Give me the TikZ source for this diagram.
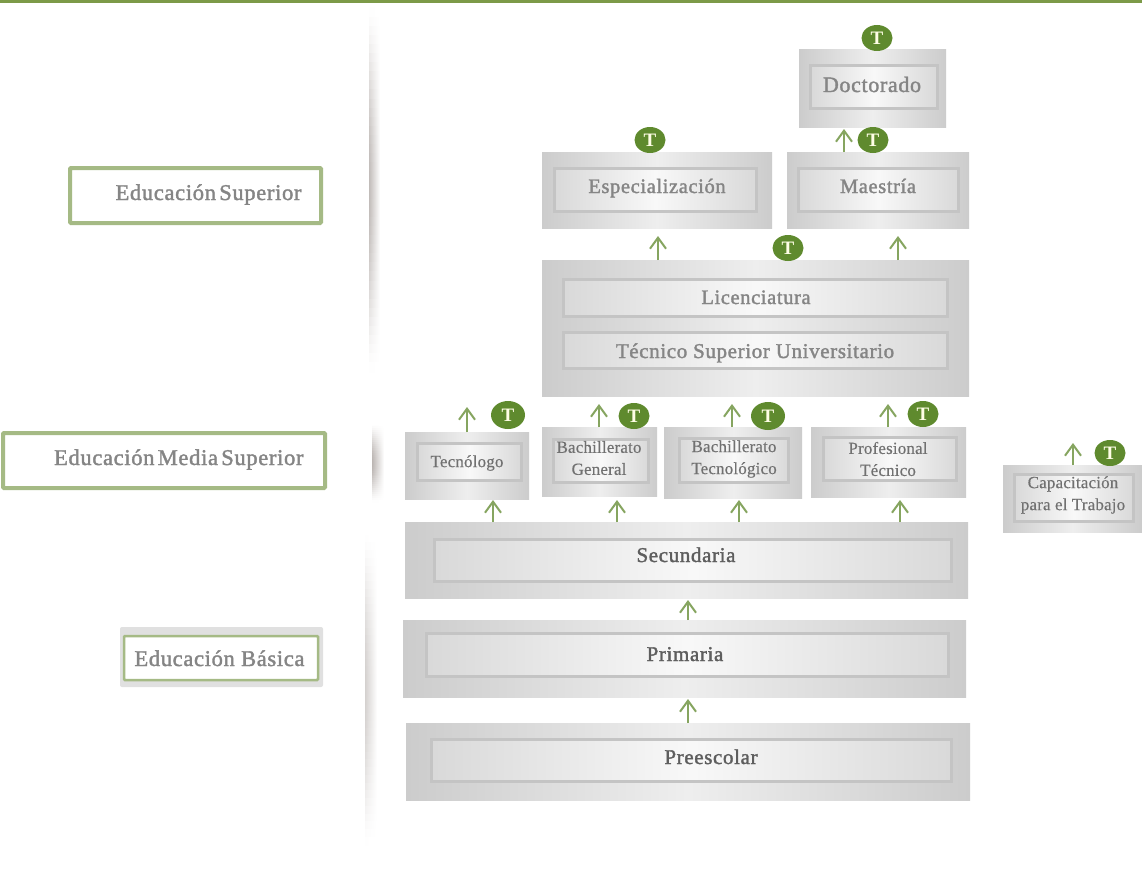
\documentclass[tikz,border=0pt]{standalone}
\usepackage{fontspec}
\setmainfont{Liberation Serif}
\newfontfamily\lblfont[LetterSpace=3,FakeBold=1.6]{Liberation Serif}
\newfontfamily\smlfont[LetterSpace=1,FakeBold=0.4]{Liberation Serif}
\usetikzlibrary{arrows.meta,shapes.geometric}
\definecolor{txtgray}{HTML}{858585}
\definecolor{txtdark}{HTML}{5E5E5E}
\definecolor{boxedge}{HTML}{CCCCCC}
\definecolor{boxlight}{HTML}{EEEEEE}
\definecolor{frameline}{HTML}{C4C4C4}
\definecolor{leafgreen}{HTML}{5F8A2E}
\definecolor{arrowgreen}{HTML}{86A560}
\definecolor{framegreen}{HTML}{A5BA85}
\definecolor{bargreen}{HTML}{7C9A48}
\definecolor{shadowc}{HTML}{8F8580}
\tikzset{
  outerbox/.style={rectangle,inner sep=0pt,outer sep=0pt,left color=boxedge,right color=boxedge,middle color=boxlight},
  innerbox/.style={rectangle,draw=frameline,line width=3pt,inner sep=0pt,outer sep=0pt,left color=boxedge!75!white,right color=boxedge!75!white,middle color=boxlight!40!white},
  toptext/.style={font=\lblfont\fontsize{20.5}{24}\selectfont,text=txtgray,anchor=base},
  darktext/.style={font=\lblfont\fontsize{21}{24}\selectfont,text=txtdark,anchor=base},
  smalltext/.style={font=\smlfont\fontsize{17}{22}\selectfont,text=txtgray!85!black,align=center},
  tbadge/.style={ellipse,fill=leafgreen,inner sep=0pt,text=white!90!yellow,font=\bfseries\fontsize{19}{19}\selectfont,minimum width=31pt,minimum height=26pt},
  upflow/.style={draw=arrowgreen,line width=2pt,-{Straight Barb[length=11pt,width=16pt,line width=2pt]}},
  levelbox/.style={rectangle,rounded corners=1pt,draw=framegreen,line width=4pt,fill=white,inner sep=0pt,outer sep=0pt},
  leveltext/.style={font=\lblfont\fontsize{22.5}{26}\selectfont,text=txtgray,anchor=base east}
}
% name, x1,y1,x2,y2 outer
\newcommand{\outerrect}[5]{%
  \pgfmathsetmacro{\cxv}{(#2+#4)/2}\pgfmathsetmacro{\cyv}{(#3+#5)/2}%
  \pgfmathsetmacro{\wv}{#4-#2}\pgfmathsetmacro{\hv}{#5-#3}%
  \node[outerbox,minimum width=\wv pt,minimum height=\hv pt] (#1) at (\cxv,\cyv) {};}
% name, x1,y1,x2,y2 inner
\newcommand{\innerrect}[5]{%
  \pgfmathsetmacro{\cxv}{(#2+#4)/2}\pgfmathsetmacro{\cyv}{(#3+#5)/2}%
  \pgfmathsetmacro{\wv}{#4-#2-3}\pgfmathsetmacro{\hv}{#5-#3-3}%
  \node[innerbox,minimum width=\wv pt,minimum height=\hv pt] (#1) at (\cxv,\cyv) {};}
\newcommand{\levelrect}[6]{%
  \pgfmathsetmacro{\cxv}{(#2+#4)/2}\pgfmathsetmacro{\cyv}{(#3+#5)/2}%
  \pgfmathsetmacro{\wv}{#4-#2-4}\pgfmathsetmacro{\hv}{#5-#3-4}%
  \node[levelbox,#6,minimum width=\wv pt,minimum height=\hv pt] (#1) at (\cxv,\cyv) {};}
% x1, x2, y1, y2, peak
\newcommand{\shadowseg}[5]{%
  \foreach \i in {0,...,39}{%
    \pgfmathsetmacro{\ya}{#3+(#4-#3)*\i/40}%
    \pgfmathsetmacro{\yb}{#3+(#4-#3)*(\i+1)/40+0.6}%
    \pgfmathsetmacro{\kv}{#5*pow(sin(180*(\i+0.5)/40),1.3)}%
    \shade[left color=shadowc!\kv!white,right color=white] (#1,\ya) rectangle (#2,\yb);
  }}
\begin{document}
\begin{tikzpicture}[x=1pt,y=-1pt]
\useasboundingbox (0,0) rectangle (1142,875);
\fill[white] (0,0) rectangle (1142,875);
\fill[bargreen] (0,0) rectangle (1142,3);
% vertical shadow
\shadowseg{369}{380}{8}{372}{55}
\shadowseg{372}{384}{425}{502}{60}
\shadowseg{365}{377}{535}{845}{38}
% level labels
\levelrect{lsup}{68}{166}{323}{225}{}
\node[leveltext] (tsup) at (305,200) {Educación\kern-3pt\ Superior};
\levelrect{lmed}{1}{431}{327}{490}{}
\node[leveltext] (tmed) at (307,465) {Educación\kern-3pt\ Media\kern-3pt\ Superior};
\node[rectangle,fill=black!12,rounded corners=2pt,minimum width=203pt,minimum height=60pt,inner sep=0pt] (lbashalo) at (221.5,657) {};
\levelrect{lbas}{122}{634}{320}{682}{line width=2.5pt}
\node[leveltext] (tbas) at (308,666) {Educación Básica};
% boxes
\outerrect{doc}{799}{50}{946}{127}
\innerrect{doci}{809}{64}{939}{110}
\outerrect{esp}{542}{152}{772}{228}
\innerrect{espi}{553}{167}{758}{213}
\outerrect{mae}{787}{152}{969}{228}
\innerrect{maei}{797}{167}{960}{213}
\outerrect{lic}{542}{260}{969}{396}
\innerrect{lici}{562}{278}{949}{318}
\innerrect{tsui}{562}{331}{949}{370}
\outerrect{tec}{405}{432}{529}{499}
\innerrect{teci}{416}{442}{523}{482}
\outerrect{bge}{542}{427}{657}{496}
\innerrect{bgei}{552}{438}{650}{484}
\outerrect{bte}{664}{427}{802}{498}
\innerrect{btei}{678}{437}{790}{484}
\outerrect{pro}{811}{427}{966}{497}
\innerrect{proi}{822}{436}{958}{482}
\outerrect{cap}{1003}{465}{1142}{532}
\innerrect{capi}{1013}{473}{1135}{523}
\outerrect{sec}{405}{522}{968}{598}
\innerrect{seci}{433}{538}{953}{583}
\outerrect{pri}{403}{620}{966}{697}
\innerrect{prii}{425}{632}{950}{678}
\outerrect{pre}{406}{723}{970}{800}
\innerrect{prei}{430}{738}{953}{783}
% labels
\node[toptext,font=\lblfont\fontsize{22}{24}\selectfont] (ldoc) at (872,92) {Doctorado};
\node[toptext] (lesp) at (657,193) {Especialización};
\node[toptext] (lmae) at (878,193) {Maestría};
\node[toptext] (llic) at (756,304) {Licenciatura};
\node[toptext,font=\lblfont\fontsize{21}{24}\selectfont] (ltsu) at (755,358) {Técnico Superior Universitario};
\node[smalltext] (ltec) at (467,463) {Tecnólogo};
\node[smalltext] (lbge) at (599,458) {Bachillerato\\General};
\node[smalltext] (lbte) at (734,459) {Bachillerato\\Tecnológico};
\node[smalltext] (lpro) at (888,459) {Profesional\\Técnico};
\node[smalltext] (lcap) at (1073,495) {Capacitación\\para el Trabajo};
\node[darktext] (lsec) at (686,562) {Secundaria};
\node[darktext] (lpri) at (685,661) {Primaria};
\node[darktext] (lpre) at (711,764) {Preescolar};
% badges
\node[tbadge] (t1) at (877,38) {T};
\node[tbadge] (t2) at (873,140) {T};
\node[tbadge] (t3) at (650,140) {T};
\node[tbadge] (t4) at (788,248) {T};
\node[tbadge,minimum width=34pt,minimum height=28pt] (t5) at (508,415) {T};
\node[tbadge] (t6) at (634,416) {T};
\node[tbadge,minimum width=34pt,minimum height=28pt] (t7) at (768,416) {T};
\node[tbadge] (t8) at (923,414) {T};
\node[tbadge] (t9) at (1110,453) {T};
% arrows
\coordinate (a1) at (844,129);
\coordinate (a2) at (658,236);
\coordinate (a3) at (898,236);
\coordinate (a4) at (467,407);
\coordinate (a5) at (599,404);
\coordinate (a6) at (732,404);
\coordinate (a7) at (888,404);
\coordinate (a8) at (1073,443);
\coordinate (a9) at (493,500);
\coordinate (a10) at (617,500);
\coordinate (a11) at (739,500);
\coordinate (a12) at (900,500);
\coordinate (a13) at (688,600);
\coordinate (a14) at (688,699);
\draw[upflow] (a1 |- mae.north) -- (a1);
\draw[upflow] (a2 |- lic.north) -- (a2);
\draw[upflow] (a3 |- lic.north) -- (a3);
\draw[upflow] (a4 |- tec.north) -- (a4);
\draw[upflow] (a5 |- bge.north) -- (a5);
\draw[upflow] (a6 |- bte.north) -- (a6);
\draw[upflow] (a7 |- pro.north) -- (a7);
\draw[upflow] (a8 |- cap.north) -- (a8);
\draw[upflow] (a9 |- sec.north) -- (a9);
\draw[upflow] (a10 |- sec.north) -- (a10);
\draw[upflow] (a11 |- sec.north) -- (a11);
\draw[upflow] (a12 |- sec.north) -- (a12);
\draw[upflow] (a13 |- pri.north) -- (a13);
\draw[upflow] (a14 |- pre.north) -- (a14);
\end{tikzpicture}
\end{document}
